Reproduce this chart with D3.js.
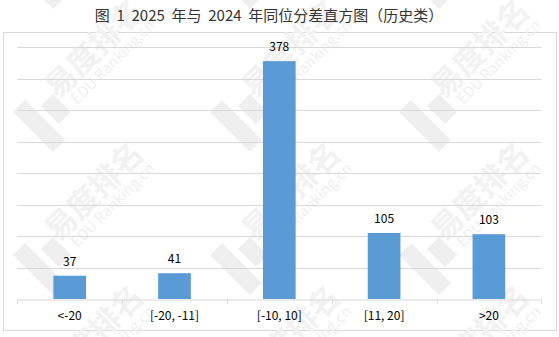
<!DOCTYPE html>
<html>
<head>
<meta charset="utf-8">
<script src="https://cdn.jsdelivr.net/npm/d3@7"></script>
<style>
  body { margin: 0; background: #fff; }
  text { font-family: SimSun, "Noto Sans CJK SC", sans-serif; }
</style>
</head>
<body>
<div id="chart-area"></div>
<script>
// data
var categories = ["<-20", "[-20, -11]", "[-10, 10]", "[11, 20]", ">20"];
var counts = [37, 41, 378, 105, 103];
var yTicks = [0, 50, 100, 150, 200, 250, 300, 350, 400];
var title = "图 1 2025 年与 2024 年同位分差直方图（历史类）";

var width = 559, height = 337;
var plot = { left: 17.3, right: 541.3, top: 47.3, bottom: 299 };

var svg = d3.select("#chart-area").append("svg")
    .attr("width", width)
    .attr("height", height);

svg.append("rect")
    .attr("width", width).attr("height", height)
    .attr("fill", "#fff");

// outer chart border
svg.append("rect")
    .attr("x", 3.5).attr("y", 32.5)
    .attr("width", 553).attr("height", 298)
    .attr("fill", "none")
    .attr("stroke", "#d9d9d9");

// watermark tiles (decoration only)
var wm = svg.append("g").attr("class", "watermark");
[13, 210, 399].forEach(function(x){
    [-43, 100, 243, 386].forEach(function(y){
        var g = wm.append("g").attr("transform", "translate(" + x + "," + y + ")");
        g.append("path")
            .attr("d", "M0,12 L12,0 L52,40 L40,52 Z")
            .attr("fill", "#efefef");
        g.append("path")
            .attr("d", "M28,6 L40,-6 L58,12 L46,24 Z")
            .attr("fill", "#efefef");
        g.append("text")
            .attr("transform", "translate(45,0) rotate(-45)")
            .attr("font-size", 31)
            .attr("font-weight", "bold")
            .attr("fill", "#f2f2f2")
            .text("易度排名");
        g.append("text")
            .attr("transform", "translate(64,5) rotate(-45)")
            .attr("font-size", 15)
            .attr("font-family", "'Liberation Serif', serif")
            .attr("fill", "#f0f0f0")
            .text("EDU Ranking.cn");
    });
});

var x = d3.scaleBand()
    .domain(categories)
    .range([plot.left, plot.right])
    .padding(0);

var y = d3.scaleLinear()
    .domain([0, 400])
    .range([plot.bottom, plot.top]);

// gridlines
svg.append("g")
    .selectAll("line")
    .data(yTicks.filter(function(d){ return d > 0; }))
    .enter()
    .append("line")
        .attr("x1", plot.left).attr("x2", plot.right)
        .attr("y1", function(d){ return Math.round(y(d)) + 0.5; })
        .attr("y2", function(d){ return Math.round(y(d)) + 0.5; })
        .attr("stroke", "#d9d9d9");

// bars
var barW = x.bandwidth() * 0.312;
svg.append("g")
    .selectAll("rect")
    .data(counts)
    .enter()
    .append("rect")
        .attr("x", function(d, i){ return x(categories[i]) + x.bandwidth() / 2 - barW / 2; })
        .attr("y", function(d){ return y(d); })
        .attr("width", barW)
        .attr("height", function(d){ return y(0) - y(d); })
        .attr("fill", "#5b9bd5");

// value labels
svg.append("g")
    .selectAll("text")
    .data(counts)
    .enter()
    .append("text")
        .attr("x", function(d, i){ return x(categories[i]) + x.bandwidth() / 2; })
        .attr("y", function(d){ return y(d) - 10; })
        .attr("text-anchor", "middle")
        .attr("font-size", 12)
        .attr("fill", "#000")
        .text(function(d){ return d; });

// x axis
var xAxis = d3.axisBottom(x).tickSize(0).tickPadding(12);
var gx = svg.append("g")
    .attr("transform", "translate(0," + (Math.round(plot.bottom) + 0.5) + ")")
    .call(xAxis);
gx.select(".domain").attr("stroke", "#d9d9d9");
gx.selectAll("text")
    .attr("font-size", 12)
    .attr("fill", "#000")
    .attr("font-family", "SimSun, 'Noto Sans CJK SC', sans-serif");

// category separator ticks
var edges = categories.map(function(c){ return x(c); }).concat([plot.right]);
gx.selectAll(".sep")
    .data(edges)
    .enter()
    .append("line")
        .attr("class", "sep")
        .attr("x1", function(d){ return Math.round(d) + 0.5; })
        .attr("x2", function(d){ return Math.round(d) + 0.5; })
        .attr("y1", 0).attr("y2", 4)
        .attr("stroke", "#d9d9d9");

// title
svg.append("text")
    .attr("x", 269)
    .attr("y", 21)
    .attr("text-anchor", "middle")
    .attr("font-size", 15)
    .attr("fill", "#333")
    .attr("xml:space", "preserve")
    .text(title.replace(/ /g, "  "));
</script>
</body>
</html>
